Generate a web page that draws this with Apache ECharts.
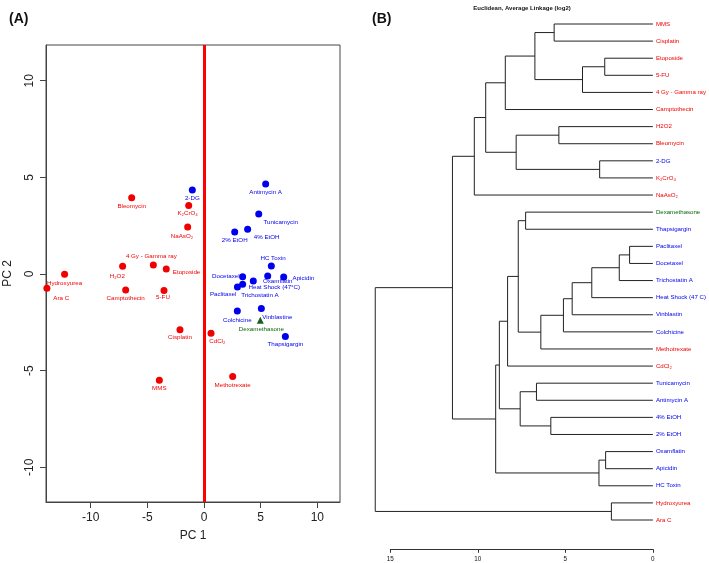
<!DOCTYPE html>
<html><head><meta charset="utf-8">
<script src="https://cdn.jsdelivr.net/npm/echarts@6/dist/echarts.min.js"></script>
<style>html,body{margin:0;padding:0;background:#fff}#c{width:709px;height:563px}</style>
</head><body><div id="c"></div>
<script>
// ---------- Panel A data (PCA scores) ----------
const redNames = ['Bleomycin','K\u2082CrO\u2084','NaAsO\u2082','4 Gy - Gamma ray','H\u2082O2','Etoposide','Hydroxyurea','Ara C','Camptothecin','5-FU','Cisplatin','CdCl\u2082','MMS','Methotrexate'];
const redX = [-6.38,-1.35,-1.44,-4.47,-7.18,-3.33,-12.3,-13.86,-6.91,-3.53,-2.12,0.62,-3.94,2.53];
const redY = [3.95,3.55,2.43,0.47,0.40,0.26,-0.02,-0.74,-0.83,-0.86,-2.88,-3.07,-5.50,-5.31];
const blueNames = ['2-DG','Antimycin A','Tunicamycin','2% EtOH','4% EtOH','HC Toxin','Docetaxel','Oxamflatin','Apicidin','Heat Shock (47\u00b0C)','Paclitaxel','Trichostatin A','Vinblastine','Colchicine','Thapsigargin'];
const blueX = [-1.03,5.44,4.83,2.71,3.85,5.94,3.41,5.62,7.03,4.35,2.95,3.41,5.06,2.94,7.18];
const blueY = [4.35,4.66,3.10,2.17,2.31,0.41,-0.14,-0.10,-0.16,-0.36,-0.67,-0.53,-1.78,-1.91,-3.24];
const greenNames = ['Dexamethasone'];
const greenX = [4.97];
const greenY = [-2.40];
const pcTicks = [-10,-5,0,5,10];

// ---------- Panel B data (dendrogram) ----------
const leaves = ['MMS','Cisplatin','Etoposide','5-FU','4 Gy - Gamma ray','Camptothecin','H2O2','Bleomycin','2-DG','K\u2082CrO\u2084','NaAsO\u2082','Dexamethasone','Thapsigargin','Paclitaxel','Docetaxel','Trichostatin A','Heat Shock (47 C)','Vinblastin','Colchicine','Methotrexate','CdCl\u2082','Tunicamycin','Antimycin A','4% EtOH','2% EtOH','Oxamflatin','Apicidin','HC Toxin','Hydroxyurea','Ara C'];
const leafGroup = ['r','r','r','r','r','r','r','r','b','r','r','g','b','b','b','b','b','b','b','r','r','b','b','b','b','b','b','b','r','r'];
// hclust-style merges: negative = leaf (1-based), positive = earlier merge (1-based)
const mergeLeft  = [-14, 1,-29,-26,-3,-9, 4, 2, 5, 8,10,-7,-1,-24,11,-22,13,-12,16,18,12,20,17,22,24,23,26,27,28];
const mergeRight = [-15,-16,-30,-27,-4,-10,-28,-17,-5,-18,-19,-8,-2,-25,-20,-23, 9,-13,14,15, 6,-21,-6,19, 7,21,-11,25, 3];
const mergeHeight= [1.33,1.92,2.37,2.70,2.75,3.04,3.08,3.49,4.02,4.61,5.11,5.37,5.64,5.83,6.40,6.65,6.74,7.27,7.58,7.69,7.81,8.30,8.43,8.77,8.98,9.55,10.2,11.45,15.86];
const distTicks = [15,10,5,0];

// ---------- layout (label offsets in px, not data) ----------
const labelOffset = {
 '2-DG':[0,8.3],'Bleomycin':[0,8.3],'K\u2082CrO\u2084':[-1,8],'NaAsO\u2082':[-5.7,9.3],'4 Gy - Gamma ray':[-2,-9],
 'H\u2082O2':[-5.3,9.7],'Etoposide':[20.3,3.3],'Hydroxyurea':[0,8.7],'Ara C':[14.3,10],'Camptothecin':[0,8.3],
 '5-FU':[-1,7],'Cisplatin':[0,8],'CdCl\u2082':[6.3,8],'MMS':[0,7.7],'Methotrexate':[0,8.7],
 '2% EtOH':[0,8.7],'4% EtOH':[19,8.3],'Antimycin A':[0,8.7],'Tunicamycin':[22,8],'HC Toxin':[1.7,-7.3],
 'Docetaxel':[-16.8,0],'Oxamflatin':[10,5],'Apicidin':[19.7,1],'Heat Shock (47\u00b0C)':[21,6.7],
 'Paclitaxel':[-14.3,7],'Trichostatin A':[17.3,10.7],'Vinblastine':[16,8.7],'Dexamethasone':[1,9],
 'Colchicine':[0,9],'Thapsigargin':[0,8]
};
const RED='#f00000', BLUE='#0000ee', GREEN='#0a640a', FONT='"Liberation Sans", Arial, sans-serif';
const groupColor = {r:RED,b:BLUE,g:GREEN};

function pts(names,xs,ys){
  return names.map((n,i)=>({name:n,value:[xs[i],ys[i]],label:{offset:labelOffset[n]||[0,8]}}));
}
function scatterSeries(names,xs,ys,color,labelColor,symbol){
  return {
    type:'scatter', xAxisIndex:0, yAxisIndex:0, symbol:symbol, symbolSize:7,
    itemStyle:{color:color, opacity:1}, clip:false, silent:true,
    label:{show:true, position:'inside', formatter:'{b}', color:labelColor, fontSize:6.2, fontFamily:FONT},
    data:pts(names,xs,ys)
  };
}

// dendrogram geometry from merges
const pos = [], hgt = [];
function child(c){ return c<0 ? [c*-1-1, 0] : [pos[c-1], hgt[c-1]]; }
const segs = [];
for(let i=0;i<mergeHeight.length;i++){
  const [pa,ha] = child(mergeLeft[i]);
  const [pb,hb] = child(mergeRight[i]);
  const h = mergeHeight[i];
  pos.push((pa+pb)/2); hgt.push(h);
  segs.push({coords:[[ha,pa],[h,pa],[h,pb],[hb,pb]]});
}

const chart = echarts.init(document.getElementById('c'),null,{renderer:'canvas'});
chart.setOption({
  animation:false,
  backgroundColor:'#fff',
  textStyle:{fontFamily:FONT},
  title:[
    {text:'(A)', left:4, top:7, textStyle:{fontSize:14, fontWeight:'bold', color:'#111', fontFamily:FONT}},
    {text:'(B)', left:367, top:7, textStyle:{fontSize:14, fontWeight:'bold', color:'#111', fontFamily:FONT}},
    {text:'Euclidean, Average Linkage (log2)', left:517, textAlign:'center', top:0, textStyle:{fontSize:6, fontWeight:'bold', color:'#111', fontFamily:FONT}}
  ],
  grid:[
    {left:46, top:45, width:294, height:457, show:true, borderColor:'#444', borderWidth:1, backgroundColor:'transparent'},
    {left:390.3, top:24, width:263, height:496, show:false}
  ],
  xAxis:[
    {gridIndex:0, type:'value', min:-13.94, max:12.0, name:'PC 1', nameLocation:'middle', nameGap:28,
     nameTextStyle:{fontSize:12, color:'#222', fontFamily:FONT},
     axisLine:{show:true, onZero:false, lineStyle:{color:'#444'}},
     axisTick:{show:true, customValues:pcTicks, length:6, lineStyle:{color:'#444'}},
     axisLabel:{customValues:pcTicks, fontSize:12, color:'#222', margin:10, fontFamily:FONT},
     splitLine:{show:false}},
    {gridIndex:1, type:'value', min:0, max:15, interval:5, inverse:true, position:'bottom', offset:29.3,
     axisLine:{show:true, onZero:false, lineStyle:{color:'#333'}},
     axisTick:{show:true, length:3.5, lineStyle:{color:'#333'}},
     axisLabel:{customValues:distTicks, fontSize:6.3, color:'#111', margin:7, fontFamily:FONT},
     splitLine:{show:false}}
  ],
  yAxis:[
    {gridIndex:0, type:'value', min:-11.8, max:11.85, name:'PC 2', nameLocation:'middle', nameGap:32, nameRotate:90,
     nameTextStyle:{fontSize:12, color:'#222', fontFamily:FONT},
     axisLine:{show:true, onZero:false, lineStyle:{color:'#444'}},
     axisTick:{show:true, customValues:pcTicks, length:6, lineStyle:{color:'#444'}},
     axisLabel:{customValues:pcTicks, rotate:90, fontSize:12, color:'#222', margin:10, fontFamily:FONT},
     splitLine:{show:false}},
    {gridIndex:1, type:'value', min:0, max:29, inverse:true, show:false},
    {gridIndex:1, type:'category', data:leaves, inverse:true, boundaryGap:false, position:'right',
     axisLine:{show:false}, axisTick:{show:false}, splitLine:{show:false},
     axisLabel:{interval:0, fontSize:6.1, margin:3, fontFamily:FONT,
       color:function(v,i){ return groupColor[leafGroup[i]]; }}}
  ],
  series:[
    {type:'scatter', xAxisIndex:0, yAxisIndex:0, data:[], silent:true,
     markLine:{silent:true, symbol:'none', label:{show:false}, animation:false,
       lineStyle:{color:'#f00', width:3, type:'solid', opacity:1}, emphasis:{disabled:true}, data:[{xAxis:0}]}},
    scatterSeries(redNames,redX,redY,RED,RED,'circle'),
    scatterSeries(blueNames,blueX,blueY,BLUE,BLUE,'circle'),
    scatterSeries(greenNames,greenX,greenY,'#1b5e20',GREEN,'triangle'),
    {type:'lines', coordinateSystem:'cartesian2d', xAxisIndex:1, yAxisIndex:1, polyline:true, clip:false, silent:true,
     lineStyle:{color:'#222', width:1, opacity:1}, data:segs}
  ]
});
</script></body></html>
